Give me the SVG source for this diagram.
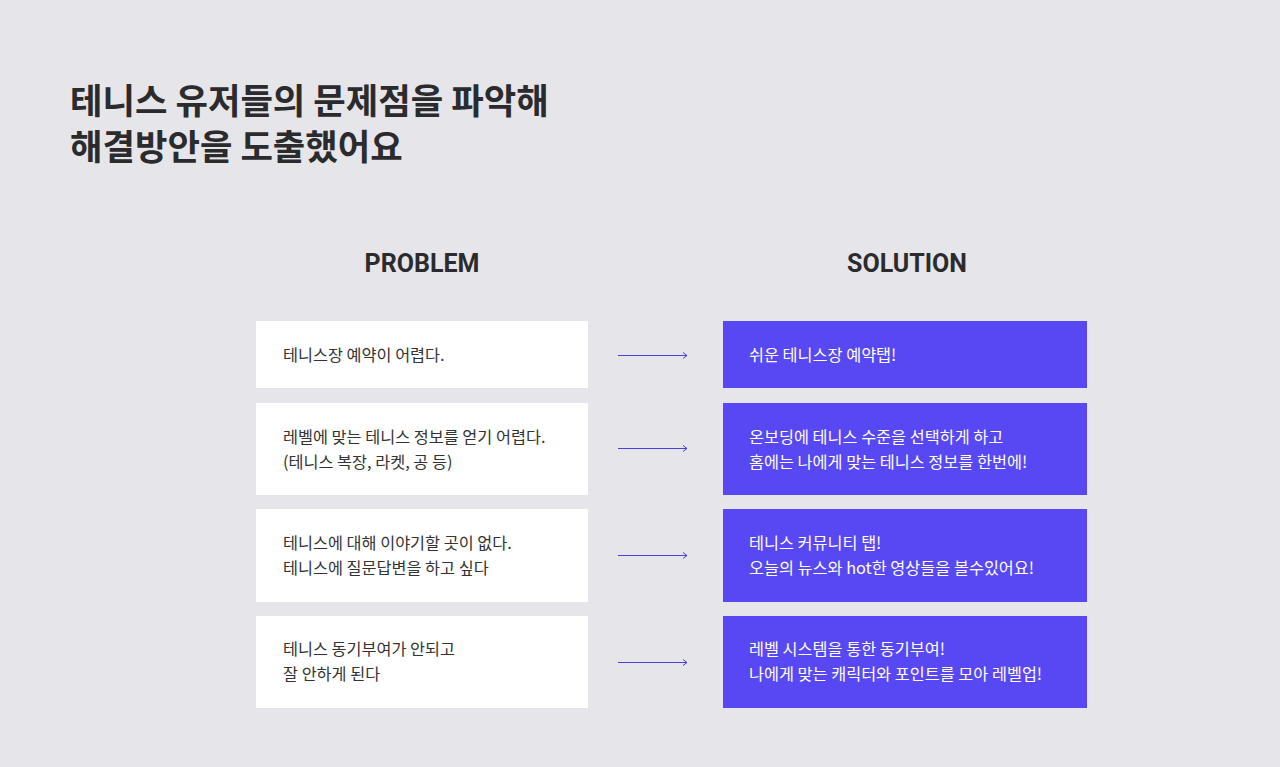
<svg xmlns="http://www.w3.org/2000/svg" width="1280" height="767" viewBox="0 0 1280 767">
<defs>
<style>
.title{font-family:"Noto Sans CJK KR","Noto Sans",sans-serif;font-weight:700;font-size:35.3px;fill:#2b2b2e}
.head{font-family:Roboto,"Noto Sans",sans-serif;font-weight:700;font-size:25px;fill:#2b2b2e;text-anchor:middle}
.pbox{fill:#ffffff}
.sbox{fill:#5848f4}
.pt{font-family:"Noto Sans CJK KR","Noto Sans",sans-serif;font-size:16.3px;fill:#333333}
.st{font-family:"Noto Sans CJK KR","Noto Sans",sans-serif;font-size:16.3px;fill:#ffffff}
.arrow{stroke:#4b3fe0;stroke-width:1;fill:none}
</style>
<marker id="ah" markerWidth="8" markerHeight="8" refX="6" refY="4" orient="auto" markerUnits="userSpaceOnUse">
<path d="M2,1 L6,4 L2,7" fill="none" stroke="#4b3fe0" stroke-width="1"/>
</marker>
</defs>
<rect width="1280" height="767" fill="#e6e5ea"/>
<g id="title">
<text class="title" x="70" y="114">테니스 유저들의 문제점을 파악해</text>
<text class="title" x="70" y="160">해결방안을 도출했어요</text>
</g>
<g id="headings">
<text class="head" x="422" y="272">PROBLEM</text>
<text class="head" x="907" y="272">SOLUTION</text>
</g>
<g id="p1"><rect class="pbox" x="256" y="321" width="332" height="67"/><text class="pt" x="283" y="361">테니스장 예약이 어렵다.</text></g>
<g id="p2"><rect class="pbox" x="256" y="403" width="332" height="92"/><text class="pt" x="283" y="443">레벨에 맞는 테니스 정보를 얻기 어렵다.</text><text class="pt" x="283" y="468">(테니스 복장, 라켓, 공 등)</text></g>
<g id="p3"><rect class="pbox" x="256" y="509" width="332" height="93"/><text class="pt" x="283" y="549">테니스에 대해 이야기할 곳이 없다.</text><text class="pt" x="283" y="574">테니스에 질문답변을 하고 싶다</text></g>
<g id="p4"><rect class="pbox" x="256" y="616" width="332" height="92"/><text class="pt" x="283" y="655">테니스 동기부여가 안되고</text><text class="pt" x="283" y="680">잘 안하게 된다</text></g>
<g id="s1"><rect class="sbox" x="723" y="321" width="364" height="67"/><text class="st" x="749" y="361">쉬운 테니스장 예약탭!</text></g>
<g id="s2"><rect class="sbox" x="723" y="403" width="364" height="92"/><text class="st" x="749" y="443">온보딩에 테니스 수준을 선택하게 하고</text><text class="st" x="749" y="468">홈에는 나에게 맞는 테니스 정보를 한번에!</text></g>
<g id="s3"><rect class="sbox" x="723" y="509" width="364" height="93"/><text class="st" x="749" y="549">테니스 커뮤니티 탭!</text><text class="st" x="749" y="574">오늘의 뉴스와 hot한 영상들을 볼수있어요!</text></g>
<g id="s4"><rect class="sbox" x="723" y="616" width="364" height="92"/><text class="st" x="749" y="655">레벨 시스템을 통한 동기부여!</text><text class="st" x="749" y="680">나에게 맞는 캐릭터와 포인트를 모아 레벨업!</text></g>
<g id="connectors">
<line class="arrow" x1="618" y1="355.5" x2="687" y2="355.5" marker-end="url(#ah)"/>
<line class="arrow" x1="618" y1="448.5" x2="687" y2="448.5" marker-end="url(#ah)"/>
<line class="arrow" x1="618" y1="555.5" x2="687" y2="555.5" marker-end="url(#ah)"/>
<line class="arrow" x1="618" y1="662.5" x2="687" y2="662.5" marker-end="url(#ah)"/>
</g>
</svg>
